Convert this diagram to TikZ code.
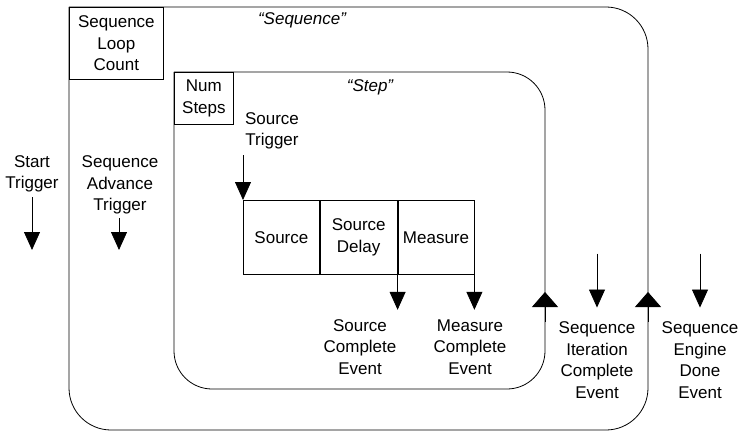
\documentclass[tikz,border=0pt]{standalone}
\usepackage{fontspec}
\setmainfont{Liberation Sans}
\usetikzlibrary{arrows.meta}
\tikzset{
  lbl/.style = {align=center, inner sep=0pt, font=\fontsize{17}{21.5}\selectfont},
  box/.style = {lbl, draw, line width=0.8pt, anchor=north west},
  trig/.style = {line width=0.8pt, -{Triangle[width=16pt,length=18pt]}},
  loopline/.style = {line width=0.8pt, rounded corners=42pt},
  done/.style = {line width=0.8pt, -{Triangle[width=26pt,length=15pt]}}
}

\begin{document}
\begin{tikzpicture}[x=1pt,y=-1pt]
  \useasboundingbox (0,0) rectangle (741,433);

  % loops
  \draw[loopline] (69,7) -- (648,7) -- (648,430) -- (69,430) -- (69,7);
  \draw[loopline, rounded corners=38pt] (174,72) -- (545,72) -- (545,389) -- (174,389) -- (174,72);
  \coordinate (seqtip) at (648,292);
  \coordinate (steptip) at (545,292);
  \draw[done] (648,322) -- (seqtip);
  \draw[done] (545,322) -- (steptip);

  \node[box, minimum width=94pt, minimum height=72pt] (loopcount) at (69,7) {Sequence\\Loop\\Count};
  \node[box, minimum width=59pt, minimum height=52pt] (numsteps) at (174,72) {Num\\Steps};
  \node[lbl, font=\fontsize{17}{21.5}\selectfont\itshape] (seqname) at (302,20) {“Sequence”};
  \node[lbl, font=\fontsize{17}{21.5}\selectfont\itshape] (stepname) at (370,87) {“Step”};

  % step boxes
  \node[box, minimum width=76pt, minimum height=74pt] (source) at (243,200) {Source};
  \node[box, minimum width=77pt, minimum height=74pt] (delay) at (source.north east) {Source\\Delay};
  \node[box, minimum width=76pt, minimum height=74pt] (measure) at (delay.north east) {Measure};

  % triggers and events
  \node[lbl] (starttrig) at (32,174) {Start\\Trigger};
  \node[lbl] (advtrig) at (120,185) {Sequence\\Advance\\Trigger};
  \node[lbl] (srctrig) at (272,131) {Source\\Trigger};
  \node[lbl] (srcdone) at (360,347) {Source\\Complete\\Event};
  \node[lbl] (measdone) at (470,347) {Measure\\Complete\\Event};
  \node[lbl] (iterdone) at (597,360) {Sequence\\Iteration\\Complete\\Event};
  \node[lbl] (enginedone) at (700,360) {Sequence\\Engine\\Done\\Event};

  \coordinate (startend) at (32,250);
  \coordinate (advend) at (119,250);
  \draw[trig] (starttrig.south |- 0,197) -- (startend);
  \draw[trig] (advend |- 0,218) -- (advend);
  \draw[trig] (source.north west |- 0,155) -- (source.north west);
  \draw[trig] (delay.south east) -- ++(0,35);
  \draw[trig] (measure.south east) -- ++(0,35);
  \draw[trig] ([yshift=68pt]iterdone.north) -- ([yshift=14pt]iterdone.north);
  \draw[trig] ([yshift=68pt]enginedone.north) -- ([yshift=14pt]enginedone.north);
\end{tikzpicture}
\end{document}
